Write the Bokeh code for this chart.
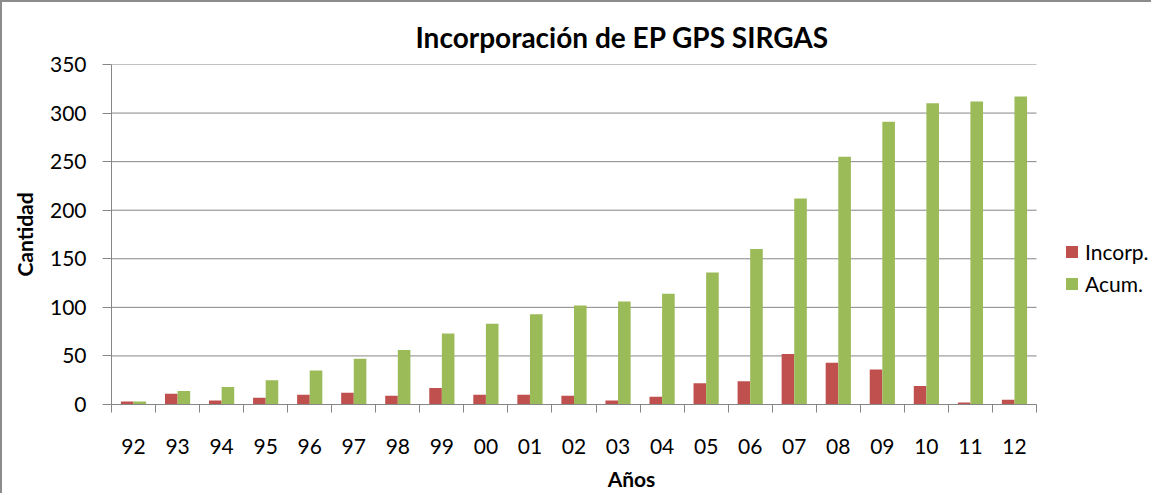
from bokeh.plotting import figure
from bokeh.models import (ColumnDataSource, Range1d, FixedTicker, Legend, LegendItem, Title)
from bokeh.transform import dodge
from bokeh.embed import file_html
from bokeh.resources import INLINE

years = ["92", "93", "94", "95", "96", "97", "98", "99", "00", "01", "02",
         "03", "04", "05", "06", "07", "08", "09", "10", "11", "12"]
incorp = [3, 11, 4, 7, 10, 12, 9, 17, 10, 10, 9, 4, 8, 22, 24, 52, 43, 36, 19, 2, 5]
acum = [3, 14, 18, 25, 35, 47, 56, 73, 83, 93, 102, 106, 114, 136, 160, 212, 255, 291, 310, 312, 317]
y_ticks = [0, 50, 100, 150, 200, 250, 300, 350]

FONT = "Lato"
GRID = "#868686"
RED = "#C0504D"
GREEN = "#9BBB59"

n = len(years)
pos = list(range(n))
src = ColumnDataSource(dict(x=pos, incorp=incorp, acum=acum))

# plot area width for the bars is 925 px; the frame also holds the legend area to its right
bar_px = 925
frame_w = 1040
x_end = -0.5 + frame_w * n / bar_px

p = figure(frame_width=frame_w, frame_height=340, output_backend="svg", toolbar_location=None,
           x_range=Range1d(-0.5, x_end), y_range=Range1d(0, 350),
           min_border_left=109, min_border_right=0, min_border_top=62, min_border_bottom=82)
p.outline_line_color = None
p.styles = {"border-left": "2px solid #8c8c8c", "border-top": "2px solid #8c8c8c"}

# horizontal gridlines limited to the bar area
p.xgrid.grid_line_color = None
p.ygrid.grid_line_color = None
p.segment(x0=[-0.5] * len(y_ticks), x1=[n - 0.5] * len(y_ticks), y0=y_ticks, y1=y_ticks,
          line_color=GRID, line_width=1)

bw = 0.286
r1 = p.vbar(x=dodge("x", -bw / 2, range=p.x_range), top="incorp", width=bw, source=src,
            fill_color=RED, line_color=None)
r2 = p.vbar(x=dodge("x", bw / 2, range=p.x_range), top="acum", width=bw, source=src,
            fill_color=GREEN, line_color=None)

# axes
p.yaxis.ticker = FixedTicker(ticks=y_ticks)
p.xaxis.ticker = FixedTicker(ticks=pos, minor_ticks=[i - 0.5 for i in range(n + 1)])
p.xaxis.major_label_overrides = {i: years[i] for i in range(n)}
p.xaxis.bounds = (-0.5, n - 0.5)

for ax in (p.xaxis[0], p.yaxis[0]):
    ax.axis_line_color = GRID
    ax.major_tick_line_color = GRID
    ax.minor_tick_line_color = GRID
    ax.major_label_text_font = FONT
    ax.major_label_text_font_size = "21px"
    ax.major_label_text_color = "#000000"
    ax.axis_label_text_font = FONT
    ax.axis_label_text_font_size = "21px"
    ax.axis_label_text_font_style = "bold"
    ax.axis_label_text_color = "#000000"

p.xaxis.major_tick_out = 0
p.xaxis.major_tick_in = 0
p.xaxis.minor_tick_out = 8
p.xaxis.minor_tick_in = 0
p.xaxis.major_label_standoff = 26
p.xaxis.axis_label = "Años"
p.xaxis.axis_label_standoff = 9
p.xaxis.axis_label_text_align = "center"

p.yaxis.major_tick_out = 9
p.yaxis.major_tick_in = 0
p.yaxis.minor_tick_line_color = None
p.yaxis.major_label_standoff = 16
p.yaxis.axis_label = "Cantidad"
p.yaxis.axis_label_standoff = 10

p.title = Title(text="Incorporación de EP GPS SIRGAS", align="left", offset=304,
                text_font=FONT, text_font_size="28px", text_font_style="bold",
                text_color="#000000", standoff=22)

legend = Legend(items=[LegendItem(label="Incorp.", renderers=[r1]),
                       LegendItem(label="Acum.", renderers=[r2])],
                location=(953, 108), orientation="vertical")
legend.label_text_font = FONT
legend.label_text_font_size = "21px"
legend.label_text_color = "#000000"
legend.glyph_width = 15
legend.glyph_height = 15
legend.label_height = 25
legend.spacing = 7
legend.label_standoff = 6
legend.padding = 0
legend.margin = 0
legend.border_line_color = None
legend.background_fill_alpha = 0
p.add_layout(legend, "center")

open("out.html", "w").write(file_html(p, INLINE))
